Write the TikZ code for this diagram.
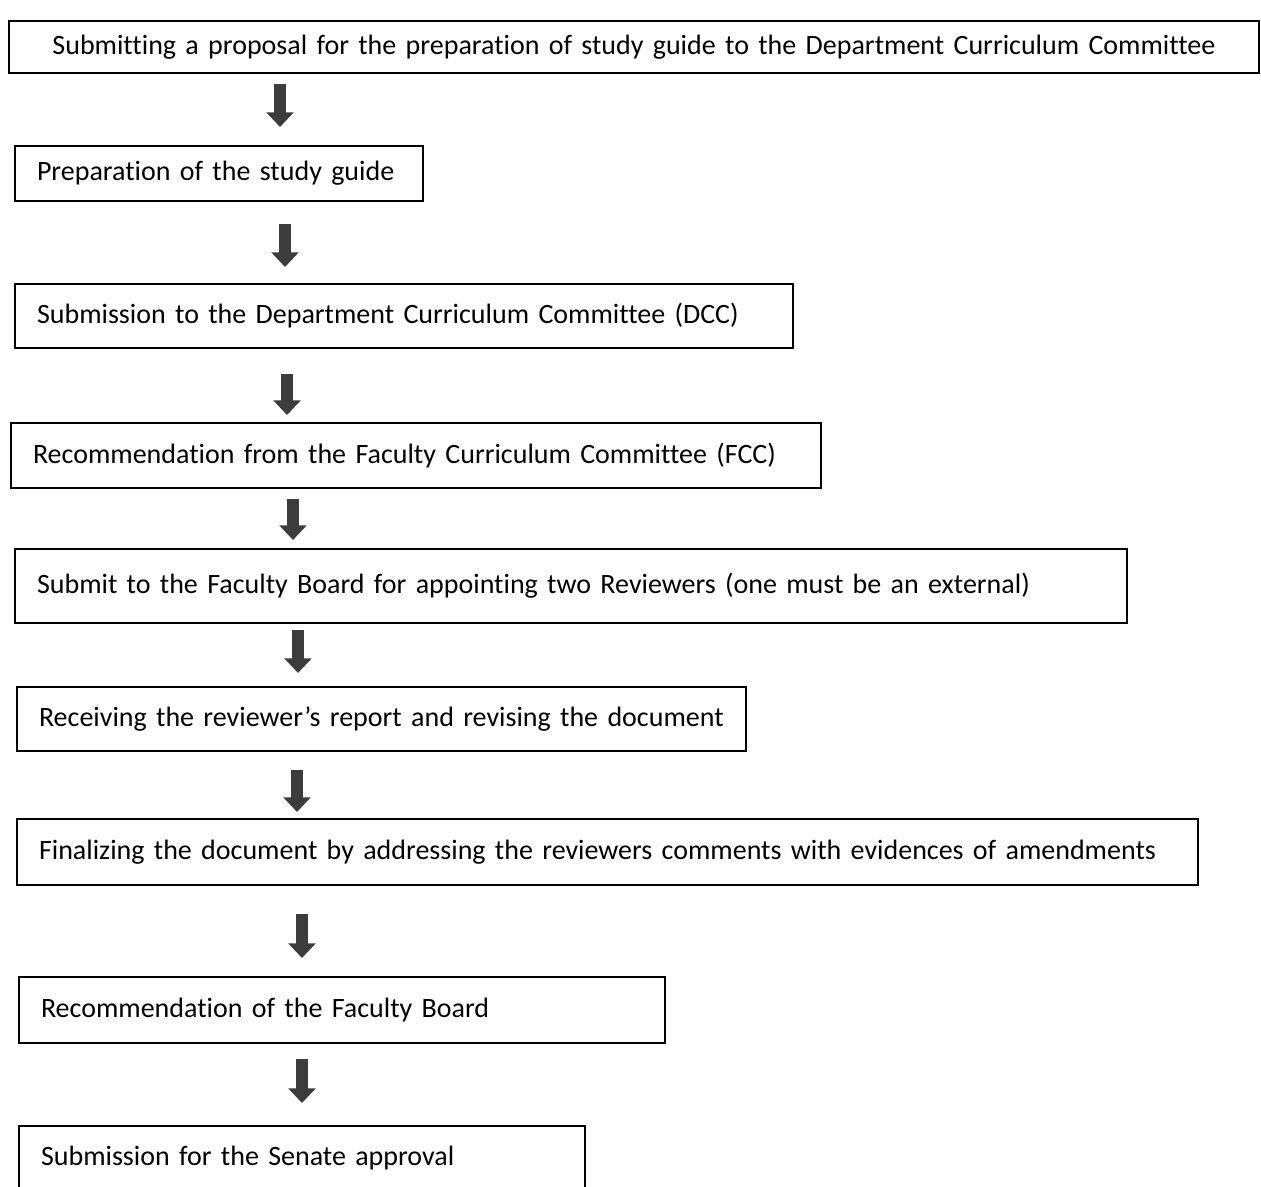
\documentclass[tikz,border=0pt]{standalone}
\usepackage{fontspec}
\setmainfont{Carlito}[Ligatures=NoCommon]
\usetikzlibrary{arrows.meta}

\tikzset{
  stepbox/.style={draw, line width=1.5pt, anchor=north west, inner xsep=16.5pt, inner ysep=0pt, align=left, font=\fontsize{21}{25}\selectfont},
  flow/.style={draw={rgb,255:red,60;green,60;blue,60}, line width=9pt, -{Triangle[width=20pt,length=11pt]}}
}

\begin{document}
\begin{tikzpicture}[x=0.75pt,y=0.75pt,yscale=-1]
\useasboundingbox (0,0) rectangle (1261,1187);

%Shape: Rectangle
\node [stepbox, align=center, text width=904.5pt, minimum height=39pt] (prop) at (8,20) {Submitting a proposal for the preparation of study guide to the Department Curriculum Committee};
%Shape: Rectangle
\node [stepbox, text width=273pt, minimum height=41.25pt] (prep) at (14,145) {Preparation of the study guide};
%Shape: Rectangle
\node [stepbox, text width=550.5pt, minimum height=48pt] (dcc) at (14,283) {Submission to the Department Curriculum Committee (DCC)};
%Shape: Rectangle
\node [stepbox, text width=574.5pt, minimum height=48.75pt] (fcc) at (10,422) {Recommendation from the Faculty Curriculum Committee (FCC)};
%Shape: Rectangle
\node [stepbox, text width=801pt, minimum height=55.5pt] (board) at (14,548) {Submit to the Faculty Board for appointing two Reviewers (one must be an external)};
%Shape: Rectangle
\node [stepbox, text width=513.75pt, minimum height=48pt] (report) at (16,686) {Receiving the reviewer’s report and revising the document};
%Shape: Rectangle
\node [stepbox, text width=852.75pt, minimum height=49.5pt] (final) at (16,818) {Finalizing the document by addressing the reviewers comments with evidences of amendments};
%Shape: Rectangle
\node [stepbox, text width=451.5pt, minimum height=49.5pt] (recom) at (18,976) {Recommendation of the Faculty Board};
%Shape: Rectangle
\node [stepbox, text width=391.5pt, minimum height=48pt] (senate) at (18,1125) {Submission for the Senate approval};

% arrow columns
\coordinate (c1) at (280,0);
\coordinate (c2) at (285,0);
\coordinate (c3) at (287,0);
\coordinate (c4) at (293,0);
\coordinate (c5) at (298,0);
\coordinate (c6) at (297,0);
\coordinate (c7) at (302,0);
\coordinate (c8) at (302,0);

%Down Arrow
\draw [flow, shorten <=7.5pt, shorten >=13.5pt] (prop.south -| c1) -- (prep.north -| c1);
%Down Arrow
\draw [flow, shorten <=16.5pt, shorten >=12pt] (prep.south -| c2) -- (dcc.north -| c2);
%Down Arrow
\draw [flow, shorten <=18.75pt, shorten >=5.25pt] (dcc.south -| c3) -- (fcc.north -| c3);
%Down Arrow
\draw [flow, shorten <=7.5pt, shorten >=6pt] (fcc.south -| c4) -- (board.north -| c4);
%Down Arrow
\draw [flow, shorten <=4.5pt, shorten >=9.75pt] (board.south -| c5) -- (report.north -| c5);
%Down Arrow
\draw [flow, shorten <=13.5pt, shorten >=4.5pt] (report.south -| c6) -- (final.north -| c6);
%Down Arrow
\draw [flow, shorten <=21pt, shorten >=13.5pt] (final.south -| c7) -- (recom.north -| c7);
%Down Arrow
\draw [flow, shorten <=11.25pt, shorten >=16.5pt] (recom.south -| c8) -- (senate.north -| c8);

\end{tikzpicture}
\end{document}
